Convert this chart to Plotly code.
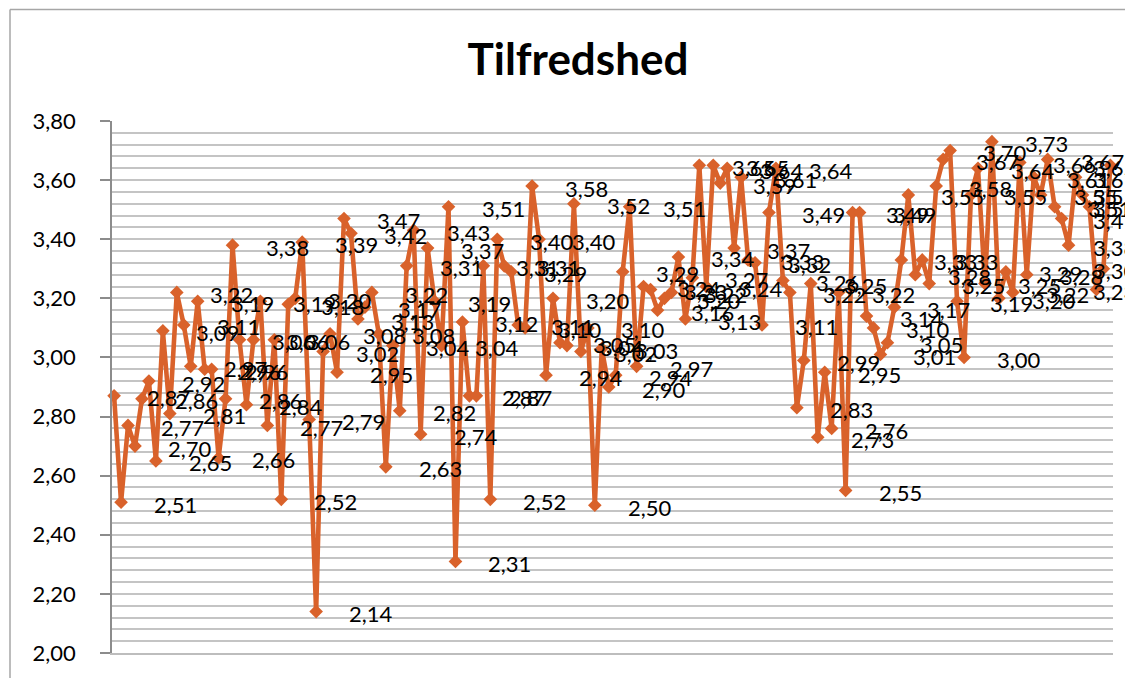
import plotly.graph_objects as go

# ---- data ----
days = list(range(1, 145))
tilfredshed = [
    2.87, 2.51, 2.77, 2.70, 2.86, 2.92, 2.65, 3.09, 2.81, 3.22,
    3.11, 2.97, 3.19, 2.96, 2.96, 2.66, 2.86, 3.38, 3.06, 2.84,
    3.06, 3.19, 2.77, 3.06, 2.52, 3.18, 3.20, 3.39, 2.79, 2.14,
    3.02, 3.08, 2.95, 3.47, 3.42, 3.13, 3.17, 3.22, 3.08, 2.63,
    3.04, 2.82, 3.31, 3.43, 2.74, 3.37, 3.19, 3.04, 3.51, 2.31,
    3.12, 2.87, 2.87, 3.31, 2.52, 3.40, 3.31, 3.29, 3.11, 3.10,
    3.58, 3.40, 2.94, 3.20, 3.05, 3.04, 3.52, 3.02, 3.10, 2.50,
    3.03, 2.90, 2.94, 3.29, 3.51, 2.97, 3.24, 3.23, 3.16, 3.20,
    3.22, 3.34, 3.13, 3.27, 3.65, 3.24, 3.65, 3.59, 3.64, 3.37,
    3.61, 3.33, 3.32, 3.11, 3.49, 3.64, 3.26, 3.22, 2.83, 2.99,
    3.25, 2.73, 2.95, 2.76, 3.22, 2.55, 3.49, 3.49, 3.14, 3.10,
    3.01, 3.05, 3.17, 3.33, 3.55, 3.28, 3.33, 3.25, 3.58, 3.67,
    3.70, 3.19, 3.00, 3.55, 3.64, 3.25, 3.73, 3.20, 3.29, 3.22,
    3.66, 3.28, 3.61, 3.55, 3.67, 3.51, 3.47, 3.38, 3.61, 3.55,
    3.51, 3.23, 3.30, 3.65,
]
y_ticks = [2.0, 2.2, 2.4, 2.6, 2.8, 3.0, 3.2, 3.4, 3.6, 3.8]
title_text = "Tilfredshed"

# ---- layout constants (page body adds an 8px offset, so the figure is 8px smaller) ----
OFF = 8
W, H = 1133 - OFF, 678 - OFF
ML, MR, MT, MB = 112 - OFF, 20, 121 - OFF, 23
XR = [0.7, 144.38]
ORANGE = "#D9622B"
GRID = "#C4C4C4"
FONT = "Lato"

plot_w = W - ML - MR
plot_h = H - MT - MB


def px_of(x):
    return ML + (x - XR[0]) / (XR[1] - XR[0]) * plot_w


fig = go.Figure()
fig.add_trace(go.Scatter(
    x=days, y=tilfredshed, mode="lines+markers",
    line=dict(color=ORANGE, width=4.6),
    marker=dict(symbol="diamond", size=10.5, color=ORANGE),
    hoverinfo="skip", showlegend=False, cliponaxis=False,
))

# data labels (Excel style: to the right of each point, kept inside chart area)
label_limit = 1091 - OFF
annotations = []
for d, v in zip(days, tilfredshed):
    shift = min(31, label_limit - px_of(d))
    annotations.append(dict(
        x=d, y=v, xref="x", yref="y", text=f"{v:.2f}".replace(".", ","),
        showarrow=False, xanchor="left", yanchor="middle",
        xshift=shift, yshift=-2,
        font=dict(family=FONT, size=22, color="#000000"),
    ))

top_border = (H - MB - (9 - OFF)) / plot_h
left_border = ((10 - OFF) - ML) / plot_w

fig.update_layout(
    width=W, height=H,
    margin=dict(l=ML, r=MR, t=MT, b=MB, pad=0),
    paper_bgcolor="white", plot_bgcolor="white",
    separators=", ",
    title=dict(text=f"<b>{title_text}</b>", xref="container", yref="container",
               x=(578 - OFF) / W, y=1 - (60 - OFF) / H, xanchor="center", yanchor="middle",
               font=dict(family=FONT, size=44, color="#000000")),
    annotations=annotations,
    xaxis=dict(range=XR, showgrid=False, showticklabels=False, ticks="",
               zeroline=False, showline=True, linecolor="#BDBDBD", linewidth=1.5),
    yaxis=dict(range=[2.0, 3.8], tickvals=y_ticks, tickformat=".2f",
               showgrid=True, gridcolor=GRID, gridwidth=1.5,
               minor=dict(dtick=0.04, tick0=2.0, showgrid=True, gridcolor=GRID,
                          gridwidth=1.5, ticks=""),
               showline=True, linecolor="#8C8C8C", linewidth=1.5,
               ticks="outside", ticklen=10, tickcolor="#8C8C8C", tickwidth=1.5,
               ticklabelstandoff=20, zeroline=False,
               tickfont=dict(family=FONT, size=22, color="#000000")),
    shapes=[
        dict(type="line", xref="paper", yref="paper",
             x0=left_border, x1=left_border, y0=-0.2, y1=top_border,
             line=dict(color="#A6A6A6", width=1.5)),
        dict(type="line", xref="paper", yref="paper",
             x0=left_border, x1=1.2, y0=top_border, y1=top_border,
             line=dict(color="#A6A6A6", width=1.5)),
    ],
)

fig.write_html("out.html")
